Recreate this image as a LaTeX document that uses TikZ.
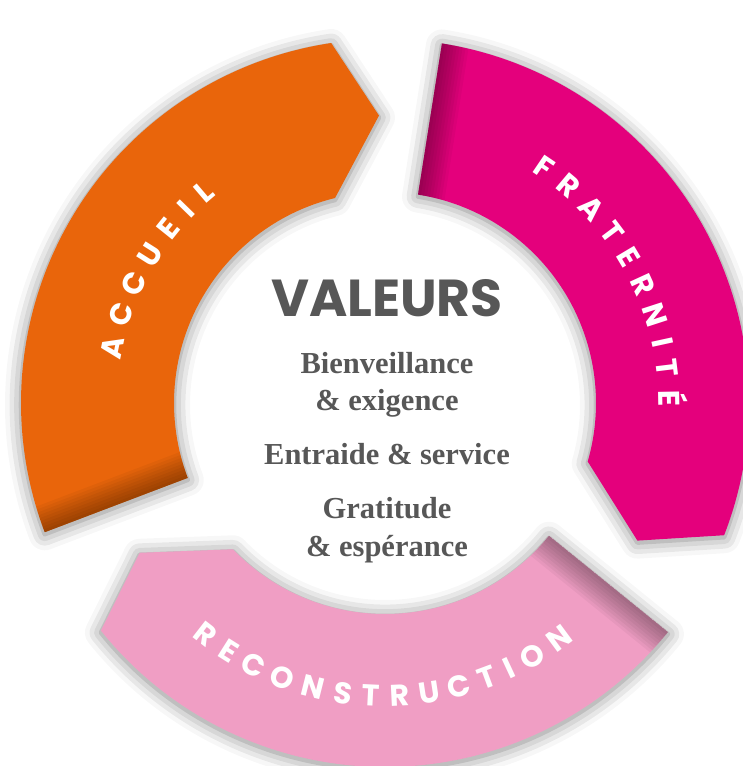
\documentclass[tikz,border=0pt]{standalone}
\usepackage{fontspec}
\setmainfont{Liberation Serif}
\newfontfamily\headfont{Poppins}
\usetikzlibrary{shadows.blur}

\definecolor{accueil}{RGB}{233,101,11}
\definecolor{fraternite}{RGB}{228,0,124}
\definecolor{reconstr}{RGB}{240,158,196}
\definecolor{valgray}{RGB}{87,87,87}

% one part of the ring, #1 = angle of its straight end
\newcommand{\ringpart}[1]{(#1:211) -- (#1:364)
  arc[start angle=#1, end angle=#1-102.3, radius=364]
  -- (#1-109.6:287.5) -- (#1-97.1:211)
  arc[start angle=#1-97.1, end angle=#1, radius=211] -- cycle}

\tikzset{
  ringshadow/.style={blur shadow={shadow xshift=0pt, shadow yshift=-2pt,
      shadow blur radius=16pt, shadow opacity=50}},
  ringletter/.style={text=white, anchor=base, inner sep=0pt,
      font=\headfont\bfseries\fontsize{30}{30}\selectfont},
  headtext/.style={text=valgray, anchor=base,
      font=\headfont\bfseries\fontsize{52}{52}\selectfont},
  bodytext/.style={text=valgray, anchor=base,
      font=\bfseries\fontsize{30.5}{30.5}\selectfont}
}

\begin{document}
\begin{tikzpicture}[x=1pt,y=1pt]
  \useasboundingbox (-385,-363) rectangle (358,403);

  % the three parts
  \foreach \start/\col in {200.8/accueil, 81/fraternite, -39/reconstr}{
    \fill[\col, ringshadow] \ringpart{\start};
    \begin{scope}
      \clip \ringpart{\start};
      % darker fold at the straight end
      \foreach \k in {1,...,9}
        \fill[black, opacity=0.04, rotate=\start] (190,-3*\k) rectangle (380,0);
    \end{scope}
  }

  % labels round the ring
  \foreach \c/\a [count=\i] in {A/168.4, C/161.47, C/154.57, U/147.7,
      E/141.21, I/135.79, L/130.5}
    \node[ringletter, rotate=\a-90] (acc\i) at (\a:267.5) {\c};
  \foreach \c/\a [count=\i] in {F/55.9, R/49.79, A/43.23, T/36.83, E/30.82,
      R/24.65, N/18.01, I/12.32, T/7.02, É/1.01}
    \node[ringletter, rotate=\a-90] (fra\i) at (\a:273.5) {\c};
  \foreach \c/\a [count=\i] in {R/-127.8, E/-122.28, C/-116.64, O/-110.44,
      N/-104.14, S/-98.27, T/-92.78, R/-87.19, U/-81.34, C/-75.37,
      T/-69.65, I/-64.97, O/-59.81, N/-53.51}
    \node[ringletter, rotate=\a+90] (rec\i) at (\a:303.5) {\c};

  % centre
  \node[headtext] (valeurs) at (2,86) {VALEURS};
  \node[bodytext] (bien) at (2,30) {Bienveillance};
  \node[bodytext] (exig) at (2,-7) {\& exigence};
  \node[bodytext] (entr) at (2,-61) {Entraide \& service};
  \node[bodytext] (grat) at (2,-115) {Gratitude};
  \node[bodytext] (esp) at (2,-153) {\& espérance};
\end{tikzpicture}
\end{document}
